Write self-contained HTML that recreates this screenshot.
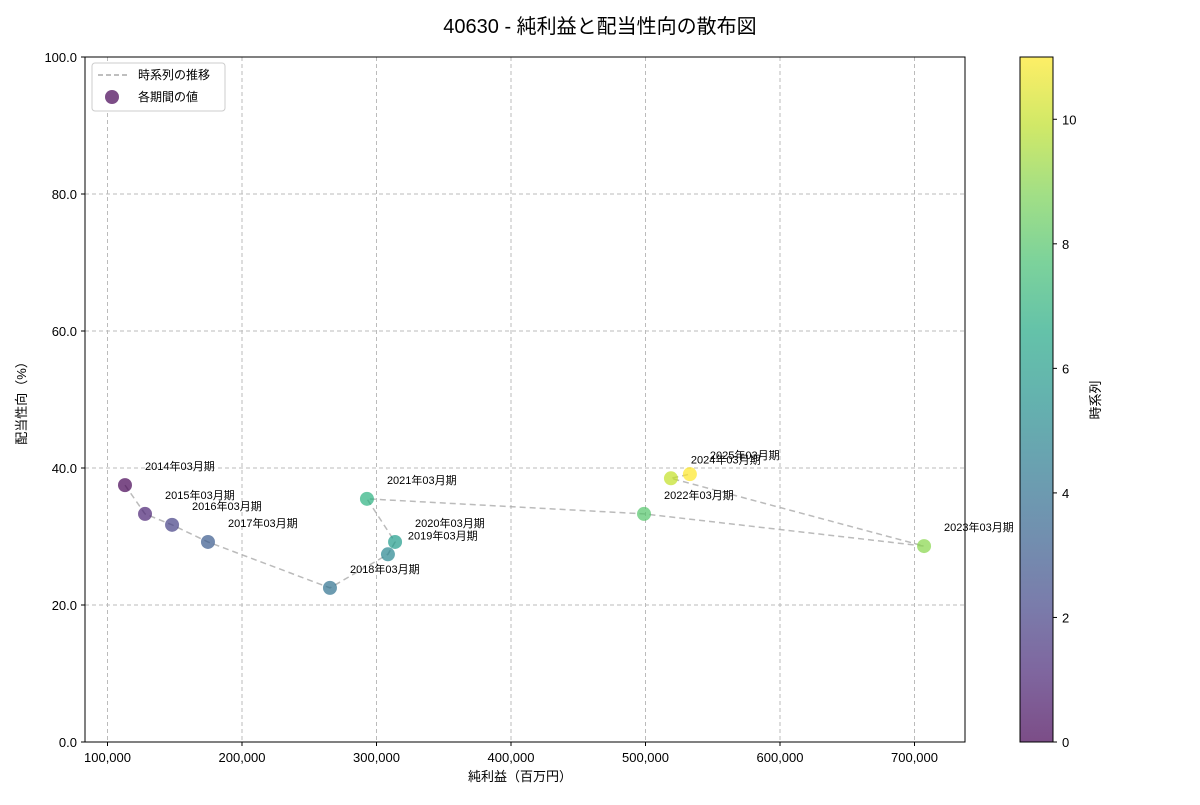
<!DOCTYPE html>
<html><head><meta charset="utf-8"><style>
body{margin:0;background:#fff;font-family:"Liberation Sans","Noto Sans CJK JP",sans-serif;}
svg text{font-family:"Liberation Sans","Noto Sans CJK JP",sans-serif;}
</style></head><body>
<svg id="chart" width="1200" height="800">
<defs><linearGradient id="vir" x1="0" y1="1" x2="0" y2="0">
<stop offset="0" stop-color="#440154"/><stop offset="0.1" stop-color="#482475"/><stop offset="0.2" stop-color="#414487"/><stop offset="0.3" stop-color="#355f8d"/><stop offset="0.4" stop-color="#2a788e"/><stop offset="0.5" stop-color="#21918c"/><stop offset="0.6" stop-color="#22a884"/><stop offset="0.7" stop-color="#44bf70"/><stop offset="0.8" stop-color="#7ad151"/><stop offset="0.9" stop-color="#bddf26"/><stop offset="1" stop-color="#fde725"/></linearGradient></defs>
<text x="600" y="33" text-anchor="middle" font-size="20">40630 - 純利益と配当性向の散布図</text>
<g id="grid"></g><g id="line"></g><g id="pts"></g><g id="labels"></g>
<rect x="85" y="57" width="880" height="685" fill="none" stroke="#000" stroke-width="1"/>
<g id="axes"></g>
<text x="520" y="781" text-anchor="middle" font-size="13">純利益（百万円）</text>
<text transform="translate(26,400) rotate(-90)" text-anchor="middle" font-size="13">配当性向（%）</text>
<g>
<rect x="92" y="63" width="133" height="48" fill="#fff" stroke="#ccc" rx="3"/>
<line x1="98" y1="75" x2="128" y2="75" stroke="#aaa" stroke-dasharray="5,3" stroke-width="1.5"/>
<text x="138" y="79" font-size="12">時系列の推移</text>
<circle cx="112" cy="97" r="7" fill="#440154" fill-opacity="0.7"/>
<text x="138" y="101" font-size="12">各期間の値</text>
</g>
<rect x="1020" y="57" width="33" height="685" fill="url(#vir)" opacity="0.7"/>
<rect x="1020" y="57" width="33" height="685" fill="none" stroke="#000" stroke-width="1"/>
<g id="cbticks"></g>
<text transform="translate(1100,400) rotate(-90)" text-anchor="middle" font-size="13">時系列</text>
</svg>
<script>
const periods=["2014年03月期","2015年03月期","2016年03月期","2017年03月期","2018年03月期","2019年03月期","2020年03月期","2021年03月期","2022年03月期","2023年03月期","2024年03月期","2025年03月期"];
const netIncome=[113000,127900,148000,174700,265400,308500,313800,292900,498900,707100,518900,533000];
const payout=[37.5,33.3,31.7,29.2,22.5,27.4,29.2,35.5,33.3,28.6,38.5,39.1];
const xTicks=[100000,200000,300000,400000,500000,600000,700000];
const yTicks=[0,20,40,60,80,100];
const cbTicks=[0,2,4,6,8,10];
const colors=["#440154","#482173","#433e85","#38588c","#2d708e","#25858e","#1e9b8a","#2ab07f","#52c569","#86d549","#c2df23","#fde725"];
const NS="http://www.w3.org/2000/svg";
const X=v=>107.5+(v-100000)/100000*134.5;
const Y=v=>742-v*6.85;
const C=v=>742-v/11*685;
function mk(parent,tag,attrs,txt){const e=document.createElementNS(NS,tag);for(const k in attrs)e.setAttribute(k,attrs[k]);if(txt!==undefined)e.textContent=txt;document.getElementById(parent).appendChild(e);return e;}
xTicks.forEach(t=>{
 const g=mk('grid','line',{x1:X(t),x2:X(t),y1:57,y2:742,stroke:'#bbb','stroke-dasharray':'4,3'});
 
 
 mk('axes','line',{x1:X(t),x2:X(t),y1:742,y2:746,stroke:'#000'});
 const l=mk('axes','text',{x:X(t),y:762,'text-anchor':'middle','font-size':13},t.toLocaleString('en-US'));
 
 
});
yTicks.forEach(t=>{
 const g=mk('grid','line',{x1:85,x2:965,y1:Y(t),y2:Y(t),stroke:'#bbb','stroke-dasharray':'4,3'});
 
 
 mk('axes','line',{x1:81,x2:85,y1:Y(t),y2:Y(t),stroke:'#000'});
 const l=mk('axes','text',{x:77,y:Y(t)+5,'text-anchor':'end','font-size':13},t.toFixed(1));
 
 
});
cbTicks.forEach(t=>{
 mk('cbticks','line',{x1:1053,x2:1057,y1:C(t),y2:C(t),stroke:'#000'});
 const l=mk('cbticks','text',{x:1062,y:C(t)+5,'font-size':13},String(t));
 
 
});
const pl=mk('line','polyline',{points:netIncome.map((v,i)=>X(v)+','+Y(payout[i])).join(' '),fill:'none',stroke:'#aaa','stroke-width':1.5,'stroke-dasharray':'6,4','stroke-opacity':0.8});


netIncome.forEach((v,i)=>{
 const c=mk('pts','circle',{cx:X(v),cy:Y(payout[i]),r:7,fill:colors[i],'fill-opacity':0.7});
 
 
 const t=mk('labels','text',{x:X(v)+20,y:Y(payout[i])-15,'font-size':11},periods[i]);
 
 
});
</script>
</body></html>
